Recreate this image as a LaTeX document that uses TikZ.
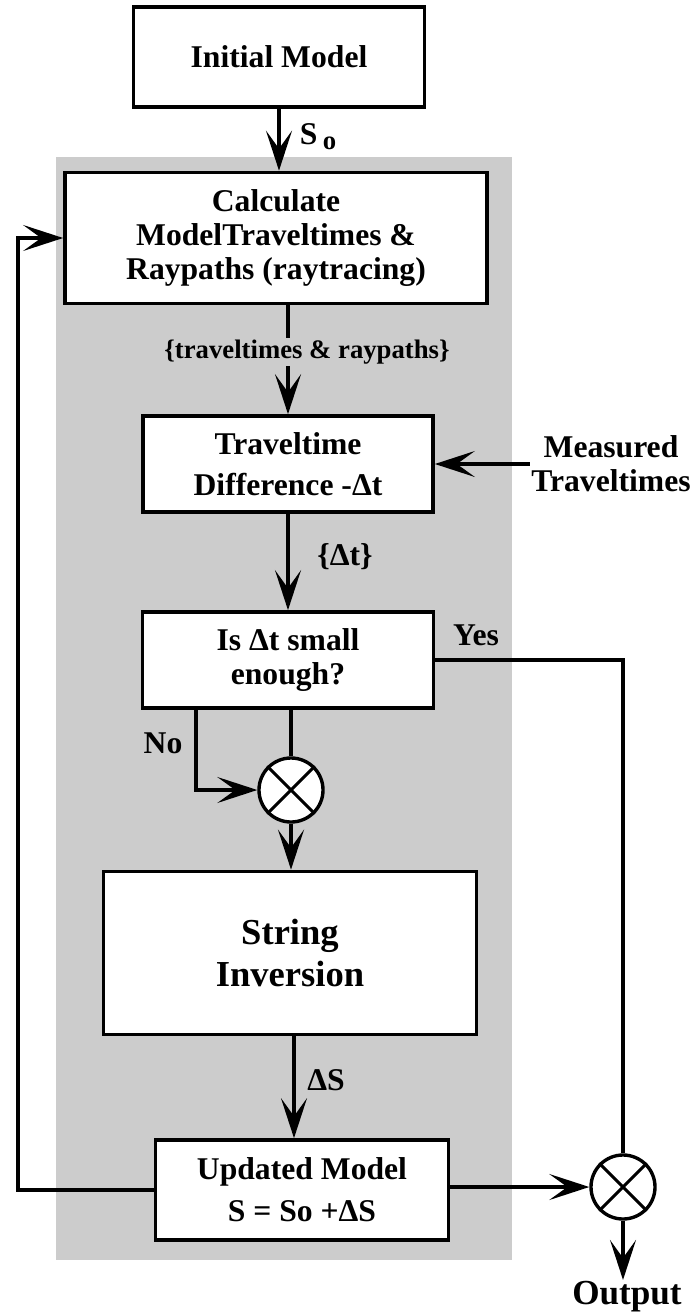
\documentclass[tikz,border=0pt]{standalone}
\usepackage{fontspec}
\setmainfont{Liberation Serif}
\usetikzlibrary{arrows.meta}

\definecolor{dotgray}{gray}{0.80}

\begin{document}
\begin{tikzpicture}[x=0.025cm,y=-0.025cm,
  font=\bfseries\fontsize{22.5}{24}\selectfont,
  box/.style={draw,line width=2.6pt,fill=white,align=center},
  joint/.style={draw,circle,line width=2.4pt,fill=white,minimum size=1.6cm,inner sep=0pt},
  lbl/.style={inner sep=1pt},
  wire/.style={line width=2.2pt},
  arr/.style={wire,-{Stealth[length=10mm,width=6.5mm,inset=4.5mm]}}]

\useasboundingbox (0,0) rectangle (693,1316);

% shaded loop area
\fill[dotgray] (56,157) rectangle (512,1260);

\node[box,minimum width=7.275cm,minimum height=2.5cm] (init) at (279,57) {Initial Model};
\node[box,minimum width=10.55cm,minimum height=3.275cm] (calc) at (276,238) {Calculate\\ ModelTraveltimes \&\\ Raypaths (raytracing)};
\node[box,minimum width=7.25cm,minimum height=2.4cm] (trav) at (288,464) {Traveltime\\[5pt] Difference -Δt};
\node[box,minimum width=7.275cm,minimum height=2.4cm] (small) at (288,660) {Is Δt small\\ enough?};
\node[joint] (join1) at (291,790) {};
\node[box,minimum width=9.325cm,minimum height=4.075cm,font=\bfseries\fontsize{26}{30}\selectfont] (inv) at (290,953) {String\\ Inversion};
\node[box,minimum width=7.325cm,minimum height=2.5cm] (upd) at (302,1190) {Updated Model\\[6pt] S = So +ΔS};
\node[joint] (join2) at (623,1187) {};

\node[lbl,align=center] (meas) at (611,464) {Measured\\ Traveltimes};
\node[lbl,font=\bfseries\fontsize{25}{27}\selectfont] (out) at (627,1297) {Output};

% crosses in the joints
\foreach \j in {join1,join2}
  \draw[wire] (\j.45) -- (\j.225) (\j.135) -- (\j.315);

% main chain
\draw[arr] (init) -- (init |- calc.north);
\node[lbl] (so) at (318,137) {S\,\raisebox{-0.35ex}{\fontsize{19}{20}\selectfont o}};

\draw[arr] (trav.north |- calc.south) -- (trav.north);
\node[lbl,fill=dotgray,font=\bfseries\fontsize{19}{20}\selectfont] (tr) at (307,352) {\{traveltimes \& raypaths\}};

\draw[arr] (meas.west) -- (trav.east);

\draw[arr] (trav.south) -- (small.north);
\node[lbl] (dt) at (345,557) {\{Δt\}};

% yes branch
\draw[wire] (small.east) -| (join2.north);
\node[lbl] (yes) at (476,635) {Yes};

% no branch
\coordinate (nobend) at (196,790);
\draw[arr] (small.south -| nobend) -- (nobend) -- (join1.west);
\node[lbl] (no) at (163,743) {No};
\draw[wire] (small.south -| join1) -- (join1.north);

\draw[arr] (join1.south) -- (inv.north -| join1);

\draw[arr] (inv.south -| 294,0) -- (upd.north -| 294,0);
\node[lbl] (ds) at (326,1080) {ΔS};

% feedback and output
\coordinate (back) at (18,238);
\draw[arr] (upd.west) -| (back) -- (calc.west);
\draw[arr] (upd.east |- join2) -- (join2.west);
\draw[arr] (join2.south) -- (join2.south |- out.north);

\end{tikzpicture}
\end{document}
